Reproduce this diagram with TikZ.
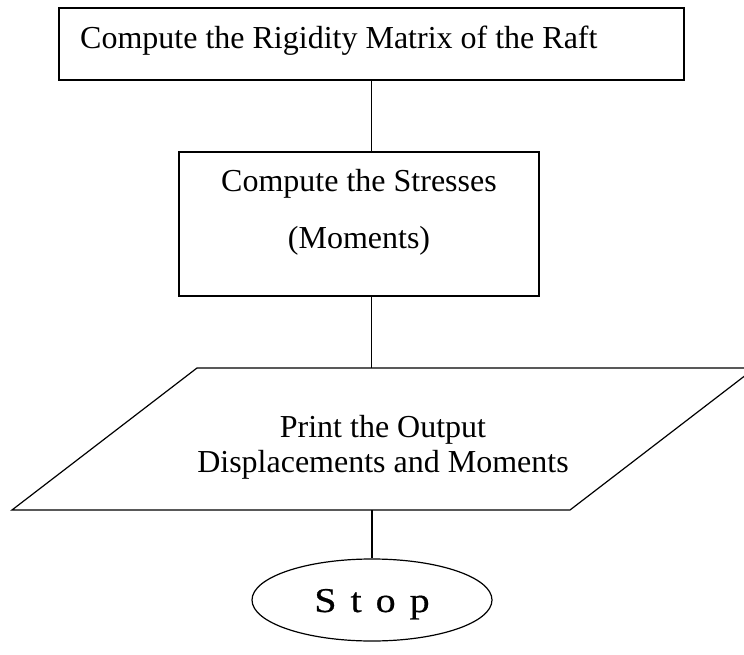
\documentclass[tikz,border=0pt]{standalone}
\usepackage{fontspec}
\setmainfont{Liberation Serif}
\usetikzlibrary{shapes.geometric}
\begin{document}
\begin{tikzpicture}[x=1pt,y=-1pt,
  stepbox/.style={draw,line width=1.2pt,inner sep=0pt,minimum width=#1},
  flowline/.style={line width=1.2pt},
  label/.style={inner sep=0pt,font=\fontsize{32}{37}\selectfont},
]
\useasboundingbox (0,0) rectangle (744,655);
\clip (0,0) rectangle (744,655);

% process boxes
\node[stepbox=625pt,minimum height=72pt] (rigid) at (371.5,44) {};
\node[label,anchor=base west] (rigidtxt) at (80,49) {Compute the Rigidity Matrix of the Raft};

\node[stepbox=360pt,minimum height=144pt] (stress) at (359,224) {};
\node[label,anchor=base] (stresstxt) at (359,192) {Compute the Stresses};
\node[label,anchor=base] (momtxt) at (359,248) {(Moments)};

% output parallelogram
\coordinate (pbl) at (12,510);
\coordinate (pbr) at (570,510);
\coordinate (ptr) at (755,368);
\coordinate (ptl) at (197,368);
\draw[flowline,line join=miter] (pbl) -- (pbr) -- (ptr) -- (ptl) -- cycle;
\node[inner sep=0pt,minimum width=10pt,minimum height=142pt] (print) at (383.5,439) {};
\node[label,anchor=base] (printtxt) at (383,437) {Print the Output};
\node[label,anchor=base] (disptxt) at (383,472) {Displacements and Moments};

% terminator
\node[draw,ellipse,line width=1.2pt,inner sep=0pt,minimum width=240pt,minimum height=82pt] (stop) at (372,600) {};
\node[inner sep=0pt,anchor=base,yscale=0.87,font=\fontsize{40}{46}\selectfont\addfontfeature{FakeBold=0.5}] (stoptxt) at (372,612)
  {S\kern14pt t\kern14pt o\kern14pt p};

% connectors
\draw[flowline] (rigid.south) -- (rigid.south |- stress.north);
\draw[flowline] (rigid.south |- stress.south) -- (rigid.south |- print.north);
\draw[flowline] (stop.north |- print.south) -- (stop.north);
\end{tikzpicture}
\end{document}
